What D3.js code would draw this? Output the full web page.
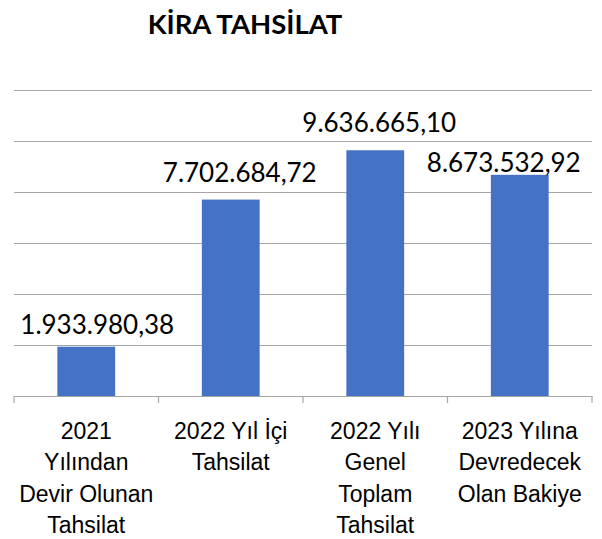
<!DOCTYPE html>
<html>
<head>
<meta charset="utf-8">
<script src="https://cdn.jsdelivr.net/npm/d3@7"></script>
<style>
  html, body { margin: 0; padding: 0; background: #fff; }
  svg { display: block; font-family: Lato, "Open Sans", sans-serif; }
</style>
</head>
<body>
<div id="chart"></div>
<script>
const title = 'KİRA TAHSİLAT'
const categories = [
    '2021\nYılından\nDevir Olunan\nTahsilat',
    '2022 Yıl İçi\nTahsilat',
    '2022 Yılı\nGenel\nToplam\nTahsilat',
    '2023 Yılına\nDevredecek\nOlan Bakiye'
]
const values = [1933980.38, 7702684.72, 9636665.10, 8673532.92]
const valueLabels = ['1.933.980,38', '7.702.684,72', '9.636.665,10', '8.673.532,92']
const yTicks = [0, 2000000, 4000000, 6000000, 8000000, 10000000, 12000000]

// labels were nudged by hand in the original, keep the nudges here
const labelNudge = [[11, 5], [9, 0], [4, 0], [-16, 15]]

const layout = { width: 602, height: 539, left: 14, right: 592, top: 90, bottom: 396 }
const barColor = '#4472C4'
const gridColor = '#a6a6a6'

const svg = d3.select('#chart')
    .append('svg')
    .attr('width', layout.width)
    .attr('height', layout.height)
    .attr('viewBox', `0 0 ${layout.width} ${layout.height}`)

const x = d3.scaleBand()
    .domain(categories)
    .range([layout.left, layout.right])
    .paddingInner(0.6)
    .paddingOuter(0.3)

const y = d3.scaleLinear()
    .domain([0, d3.max(yTicks)])
    .range([layout.bottom, layout.top])

// gridlines
const grid = svg.append('g')
    .attr('transform', `translate(${layout.left},0)`)
    .call(d3.axisLeft(y).tickValues(yTicks.slice(1)).tickSize(-(layout.right - layout.left)).tickFormat(''))
grid.select('.domain').remove()
grid.selectAll('.tick line').attr('stroke', gridColor).attr('stroke-width', 1.2)

// bars
svg.append('g')
    .selectAll('rect')
    .data(values)
    .enter()
    .append('rect')
    .attr('x', (d, i) => x(categories[i]))
    .attr('width', x.bandwidth())
    .attr('y', d => y(d))
    .attr('height', d => y(0) - y(d))
    .attr('fill', barColor)

// category axis, ticks sit between categories
const xAxis = svg.append('g')
    .attr('transform', `translate(0,${layout.bottom})`)
    .call(d3.axisBottom(x).tickSize(0).tickPadding(0))
xAxis.select('.domain').attr('stroke', gridColor).attr('stroke-width', 1.2)
xAxis.selectAll('.tick text').remove()

const edges = d3.range(categories.length + 1).map(i => layout.left + i * x.step())
xAxis.selectAll('line.sep')
    .data(edges)
    .enter()
    .append('line')
    .attr('class', 'sep')
    .attr('x1', d => d).attr('x2', d => d)
    .attr('y1', 0).attr('y2', 7)
    .attr('stroke', gridColor)
    .attr('stroke-width', 1.2)

xAxis.selectAll('.tick').each(function (d) {
    const t = d3.select(this).append('text')
        .attr('fill', '#000')
        .attr('font-size', 23)
        .attr('text-anchor', 'middle')
    d.split('\n').forEach((line, i) => {
        t.append('tspan').attr('x', 0).attr('y', 43 + i * 31.3).text(line)
    })
})

// value labels
svg.append('g')
    .selectAll('text')
    .data(values)
    .enter()
    .append('text')
    .attr('x', (d, i) => x(categories[i]) + x.bandwidth() / 2 + labelNudge[i][0])
    .attr('y', (d, i) => y(d) - 18 + labelNudge[i][1])
    .attr('text-anchor', 'middle')
    .attr('font-size', 26)
    .attr('fill', '#000')
    .text((d, i) => valueLabels[i])

// title
svg.append('text')
    .attr('x', 245)
    .attr('y', 34)
    .attr('text-anchor', 'middle')
    .attr('font-size', 27.5)
    .attr('font-weight', 'bold')
    .attr('fill', '#000')
    .text(title)
</script>
</body>
</html>
